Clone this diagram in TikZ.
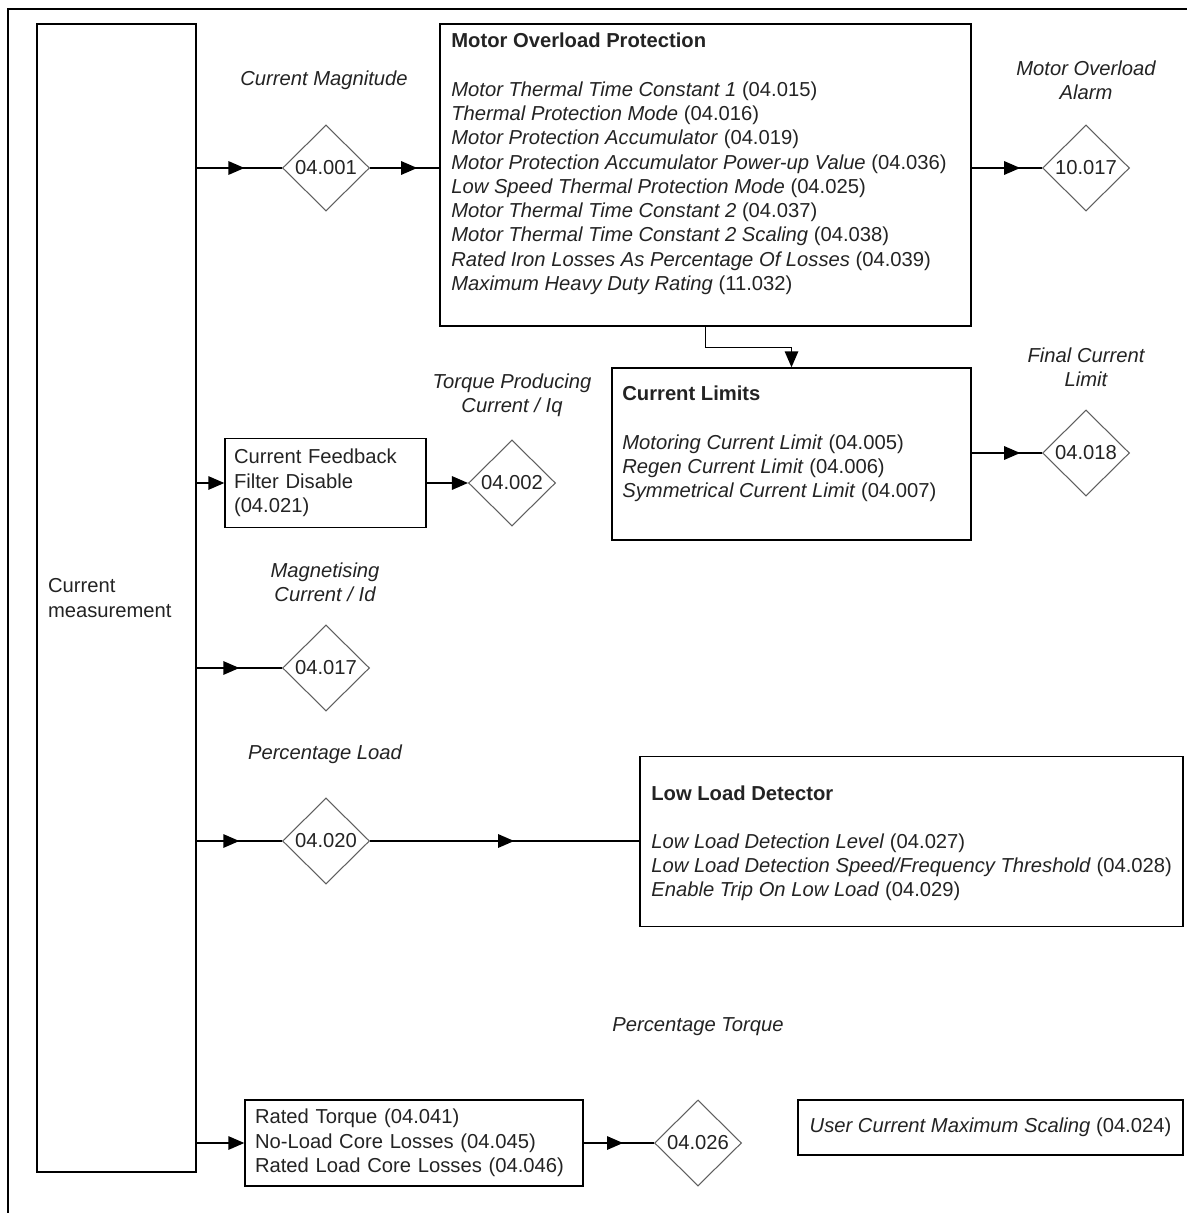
\documentclass[tikz,border=0pt]{standalone}
\usepackage{fontspec}
\setmainfont{Liberation Sans}
\usetikzlibrary{shapes.geometric, arrows.meta, decorations.markings}
\definecolor{paramgray}{RGB}{95,95,95}
\definecolor{textgray}{RGB}{35,35,35}

\begin{document}
\begin{tikzpicture}[x=0.02cm, y=-0.02cm, font=\fontsize{11.5}{13.8}\selectfont, text=textgray,
    blk/.style={draw, rectangle, line width=0.8pt, inner sep=0pt},
    param/.style={draw=paramgray, diamond, line width=0.6pt, inner sep=0pt, minimum width=1.74cm, minimum height=1.72cm},
    lbl/.style={align=center, font=\fontsize{11.5}{13.8}\selectfont\itshape},
    conn/.style={line width=0.8pt},
    endarr/.style={conn, -{Triangle[length=0.32cm, width=0.27cm]}},
    midarr/.style={conn, postaction={decorate}, decoration={markings, mark=at position #1 with {\arrow{Triangle[length=0.32cm, width=0.27cm]}}}}]
    \useasboundingbox (0,0) rectangle (1187,1213);
    \draw[line width=1pt] (8,1213) -- (8,9) -- (1187,9);

    % left block
    \node[blk, minimum width=3.18cm, minimum height=22.96cm, text width=2.74cm, align=left] (meas) at (116.5,598) {Current\\measurement};

    % motor overload
    \node[blk, minimum width=10.62cm, minimum height=6.04cm] (mop) at (705.5,175) {};
    \node[anchor=north west, align=left, inner sep=0pt] (moptxt) at (451,33) {\textbf{Motor Overload Protection}\\[\baselineskip]
        \textit{Motor Thermal Time Constant 1} (04.015)\\
        \textit{Thermal Protection Mode} (04.016)\\
        \textit{Motor Protection Accumulator} (04.019)\\
        \textit{Motor Protection Accumulator Power-up Value} (04.036)\\
        \textit{Low Speed Thermal Protection Mode} (04.025)\\
        \textit{Motor Thermal Time Constant 2} (04.037)\\
        \textit{Motor Thermal Time Constant 2 Scaling} (04.038)\\
        \textit{Rated Iron Losses As Percentage Of Losses} (04.039)\\
        \textit{Maximum Heavy Duty Rating} (11.032)};
    \node[param] (d001) at (326,168) {04.001};
    \node[lbl] (magn) at (324,80) {Current Magnitude};
    \node[param] (d10017) at (1086,168) {10.017};
    \node[lbl] (alarm) at (1086,80) {Motor Overload\\Alarm};

    % current limits
    \node[blk, minimum width=7.18cm, minimum height=3.44cm] (cl) at (791.5,454) {};
    \node[anchor=north west, align=left, inner sep=0pt] (cltxt) at (622,386) {\textbf{Current Limits}\\[\baselineskip]
        \textit{Motoring Current Limit} (04.005)\\
        \textit{Regen Current Limit} (04.006)\\
        \textit{Symmetrical Current Limit} (04.007)};
    \node[param] (d018) at (1086,453) {04.018};
    \node[lbl] (final) at (1086,367) {Final Current\\Limit};

    % feedback filter
    \node[blk, minimum width=4.02cm, minimum height=1.78cm, text width=3.66cm, align=left] (cff) at (325.5,483) {Current Feedback\\Filter Disable\\(04.021)};
    \node[param] (d002) at (512,483) {04.002};
    \node[lbl] (iq) at (512,395) {Torque Producing\\Current / Iq};

    % magnetising
    \node[param] (d04017) at (326,668) {04.017};
    \node[lbl] (id) at (325,582) {Magnetising\\Current / Id};

    % low load
    \node[param] (d020) at (326,841) {04.020};
    \node[lbl] (pload) at (325,754) {Percentage Load};
    \node[blk, minimum width=10.86cm, minimum height=3.4cm] (lld) at (911.5,841.5) {};
    \node[anchor=north west, align=left, inner sep=0pt] (lldtxt) at (651,785) {\textbf{Low Load Detector}\\[\baselineskip]
        \textit{Low Load Detection Level} (04.027)\\
        \textit{Low Load Detection Speed/Frequency Threshold} (04.028)\\
        \textit{Enable Trip On Low Load} (04.029)};

    % torque
    \node[blk, minimum width=6.76cm, minimum height=1.72cm, text width=6.36cm, align=left] (rt) at (414,1143) {Rated Torque (04.041)\\No-Load Core Losses (04.045)\\Rated Load Core Losses (04.046)};
    \node[param] (d026) at (698,1143) {04.026};
    \node[lbl] (ptorque) at (698,1027) {Percentage Torque};
    \node[blk, minimum width=7.7cm, minimum height=1.1cm] (ucms) at (990.5,1127.5) {\textit{User Current Maximum Scaling} (04.024)};

    % connectors
    \draw[midarr=0.56] (meas.east |- d001) -- (d001);
    \draw[midarr=0.68] (d001) -- (mop.west |- d001);
    \draw[midarr=0.69] (mop.east |- d10017) -- (d10017);
    \draw[endarr] (mop.south) -- ++(0,21) -| (cl.north);
    \draw[midarr=0.69] (cl.east |- d018) -- (d018);
    \draw[endarr] (meas.east |- cff) -- (cff);
    \draw[endarr] (cff) -- (d002);
    \draw[midarr=0.5] (meas.east |- d04017) -- (d04017);
    \draw[midarr=0.5] (meas.east |- d020) -- (d020);
    \draw[midarr=0.535] (d020) -- (lld.west |- d020);
    \draw[endarr] (meas.east |- rt) -- (rt);
    \draw[midarr=0.56] (rt) -- (d026);
\end{tikzpicture}
\end{document}
